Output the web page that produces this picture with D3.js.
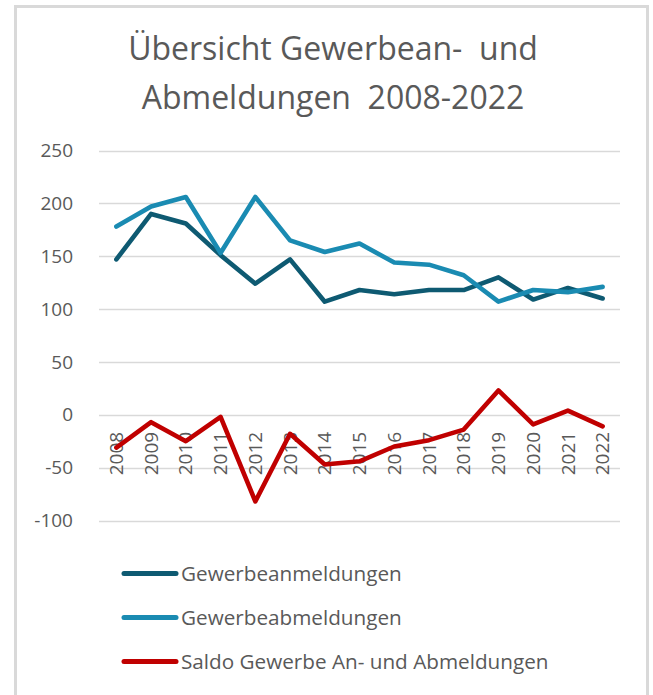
<!DOCTYPE html>
<html>
<head>
<meta charset="utf-8">
<script src="https://cdn.jsdelivr.net/npm/d3@7"></script>
<style>
  html, body { margin: 0; padding: 0; background: #fff; }
  svg { display: block; font-family: "Open Sans", sans-serif; }
</style>
</head>
<body>
<svg id="chart"></svg>
<script>
const W = 653, H = 695;

// data
const years = ["2008","2009","2010","2011","2012","2013","2014","2015","2016","2017","2018","2019","2020","2021","2022"];
const anmeldungen = [147,190,181,151,124,147,107,118,114,118,118,130,109,120,110];
const abmeldungen = [178,197,206,153,206,165,154,162,144,142,132,107,118,116,121];
const saldo = [-31,-7,-25,-2,-82,-18,-47,-44,-30,-24,-14,23,-9,4,-11];
const yTicks = [-100,-50,0,50,100,150,200,250];
const seriesNames = ["Gewerbeanmeldungen","Gewerbeabmeldungen","Saldo Gewerbe An- und Abmeldungen"];
const titleLines = ["Übersicht Gewerbean-  und", "Abmeldungen  2008-2022"];

const colors = ["#0e5a72", "#1a8bb2", "#c00000"];
const textCol = "#595959";

const series = [anmeldungen, abmeldungen, saldo].map((vals, i) => ({
  name: seriesNames[i],
  color: colors[i],
  values: vals.map((v, j) => ({year: years[j], v}))
}));

const svg = d3.select("#chart").attr("width", W).attr("height", H);

// chart frame
svg.append("rect")
  .attr("x", 15.5).attr("y", 6.5)
  .attr("width", 632).attr("height", 720)
  .attr("fill", "#fff")
  .attr("stroke", "#d9d9d9")
  .attr("stroke-width", 3);

// title
svg.append("g").selectAll("text")
  .data(titleLines)
  .join("text")
    .attr("x", 333)
    .attr("y", (d, i) => 60 + i * 49)
    .attr("text-anchor", "middle")
    .attr("fill", textCol)
    .style("font-size", "32px")
    .style("white-space", "pre")
    .text(d => d);

const x = d3.scaleBand().domain(years).range([99, 620]);
const y = d3.scaleLinear().domain([-100, 250]).range([520.5, 150.5]);

// gridlines
svg.append("g").selectAll("line")
  .data(yTicks)
  .join("line")
    .attr("x1", 99).attr("x2", 620)
    .attr("y1", d => Math.round(y(d)) + 0.5)
    .attr("y2", d => Math.round(y(d)) + 0.5)
    .attr("stroke", "#d9d9d9")
    .attr("stroke-width", 1.3);

// y axis labels
svg.append("g").selectAll("text")
  .data(yTicks)
  .join("text")
    .attr("x", 73)
    .attr("y", d => y(d))
    .attr("dy", "0.35em")
    .attr("text-anchor", "end")
    .attr("fill", textCol)
    .style("font-size", "19px")
    .text(d => d);

// x axis labels, rotated, hanging below the zero line
svg.append("g").selectAll("text")
  .data(years)
  .join("text")
    .attr("transform", d => `translate(${x(d) + x.bandwidth() / 2},${y(0) + 17}) rotate(-90)`)
    .attr("dy", "0.35em")
    .attr("text-anchor", "end")
    .attr("fill", textCol)
    .style("font-size", "19px")
    .text(d => d);

// lines
const line = d3.line()
  .x(d => x(d.year) + x.bandwidth() / 2)
  .y(d => y(d.v));

svg.append("g").selectAll("path")
  .data(series)
  .join("path")
    .attr("fill", "none")
    .attr("stroke", d => d.color)
    .attr("stroke-width", 4.6)
    .attr("stroke-linejoin", "round")
    .attr("stroke-linecap", "round")
    .attr("d", d => line(d.values));

// legend
const leg = svg.append("g").selectAll("g")
  .data(series)
  .join("g")
    .attr("transform", (d, i) => `translate(0,${573.5 + i * 44})`);

leg.append("line")
  .attr("x1", 124).attr("x2", 176)
  .attr("stroke", d => d.color)
  .attr("stroke-width", 5)
  .attr("stroke-linecap", "round");

leg.append("text")
  .attr("x", 181)
  .attr("dy", "0.35em")
  .attr("fill", textCol)
  .style("font-size", "20.7px")
  .text(d => d.name);
</script>
</body>
</html>
